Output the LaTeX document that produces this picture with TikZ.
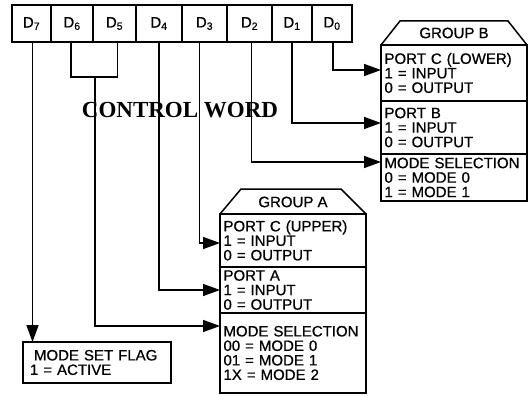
\documentclass[tikz,border=0pt]{standalone}
\usepackage{fontspec}
\setmainfont{Liberation Sans}[FakeBold=0.7]
\newfontfamily\cwfont{Liberation Serif}
\usetikzlibrary{arrows.meta,calc}
\begin{document}
\begin{tikzpicture}[x=1pt,y=-1pt,
  every node/.style={inner sep=0pt,outer sep=0pt},
  line width=1.5pt,
  bitcell/.style={draw,anchor=north west,minimum height=37pt,font=\fontsize{15}{15}\selectfont},
  sec/.style={draw,anchor=north west,minimum width=146pt,text width=139pt,inner xsep=3.5pt,
    align=left,font=\fontsize{15}{14.5}\selectfont},
  head/.style={font=\fontsize{15}{15}\selectfont},
  arr/.style={-{Triangle[length=17pt,width=12pt]}}]
\useasboundingbox (0,0) rectangle (530,396);
% control word register
\node[bitcell,minimum width=39pt] (d7) at (12,5) {D\textsubscript{7}};
\node[bitcell,minimum width=42pt] (d6) at (51,5) {D\textsubscript{6}};
\node[bitcell,minimum width=43pt] (d5) at (93,5) {D\textsubscript{5}};
\node[bitcell,minimum width=46pt] (d4) at (136,5) {D\textsubscript{4}};
\node[bitcell,minimum width=45pt] (d3) at (182,5) {D\textsubscript{3}};
\node[bitcell,minimum width=45pt] (d2) at (227,5) {D\textsubscript{2}};
\node[bitcell,minimum width=40pt] (d1) at (272,5) {D\textsubscript{1}};
\node[bitcell,minimum width=40pt] (d0) at (312,5) {D\textsubscript{0}};
\node[font=\cwfont\bfseries\fontsize{23}{23}\selectfont] (cw) at (180,110) {CONTROL WORD};
% group B
\node[sec,minimum height=56pt] (pcl) at (381,45) {PORT C (LOWER)\\1 = INPUT\\0 = OUTPUT};
\node[sec,minimum height=53pt] (pb) at (381,101) {PORT B\\1 = INPUT\\0 = OUTPUT};
\node[sec,minimum height=47pt] (msb) at (381,154) {MODE SELECTION\\0 = MODE 0\\1 = MODE 1};
\draw (pcl.north west) -- ([xshift=19pt,yshift=24pt]pcl.north west)
  -- ([xshift=-19pt,yshift=24pt]pcl.north east) -- (pcl.north east);
\node[head] (gb) at ($(pcl.north)+(0,-12)$) {GROUP B};
% group A
\node[sec,minimum height=53pt] (pcu) at (220,214) {PORT C (UPPER)\\1 = INPUT\\0 = OUTPUT};
\node[sec,minimum height=46pt] (pa) at (220,267) {PORT A\\1 = INPUT\\0 = OUTPUT};
\node[sec,minimum height=80pt] (msa) at (220,313) {MODE SELECTION\\00 = MODE 0\\01 = MODE 1\\1X = MODE 2\\[2pt]};
\draw (pcu.north west) -- ([xshift=21pt,yshift=25pt]pcu.north west)
  -- ([xshift=-25pt,yshift=25pt]pcu.north east) -- (pcu.north east);
\node[head] (ga) at ($(pcu.north)+(0,-12)$) {GROUP A};
% mode set flag
\node[draw,anchor=north west,minimum width=148pt,minimum height=41pt,text width=134pt,
  inner xsep=7pt,align=left,font=\fontsize{15}{14.5}\selectfont] (msf) at (23,342)
  {\hspace*{4pt}MODE SET FLAG\\1 = ACTIVE};
% connectors
\draw[arr] ([xshift=1pt]d7.south) -- ([xshift=1pt]d7.south |- msf.north);
\coordinate (j65) at ($(d6.south)!0.5!([xshift=3pt]d5.south)+(0,35)$);
\draw ([xshift=-1pt]d6.south) |- (j65) -| ([xshift=3pt]d5.south);
\draw[arr] (j65) |- ([yshift=-13pt]msa.north west);
\draw[arr] (d4.south) |- ([yshift=-23pt]pa.north west);
\draw[arr] ([xshift=-5pt]d3.south) |- ([yshift=-29pt]pcu.north west);
\draw[arr] ([xshift=2pt]d2.south) |- ([yshift=-8pt]msb.north west);
\draw[arr] (d1.south) |- ([yshift=-22pt]pb.north west);
\draw[arr] ([xshift=1pt]d0.south) |- ([yshift=-25pt]pcl.north west);
\end{tikzpicture}
\end{document}
